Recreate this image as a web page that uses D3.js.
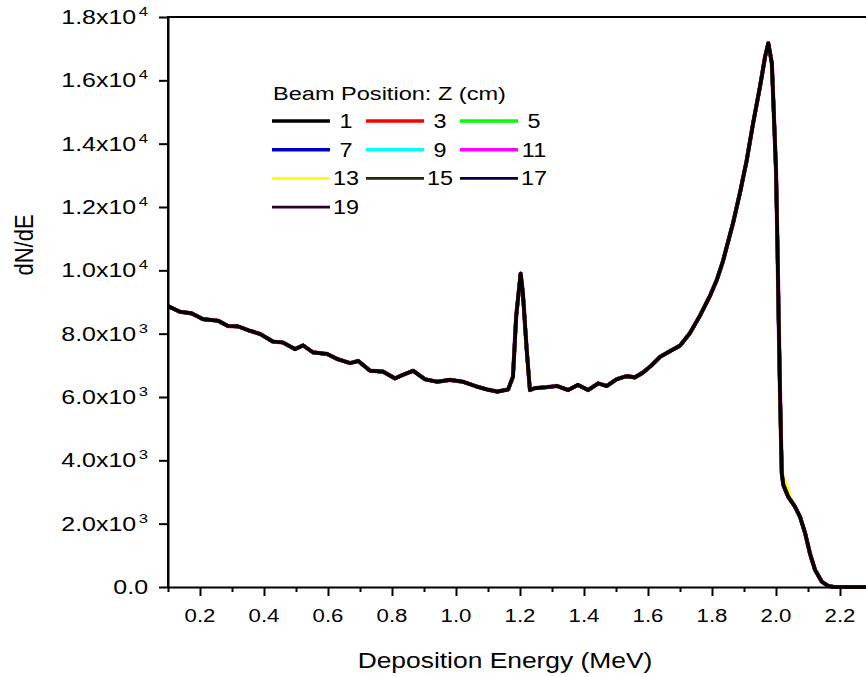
<!DOCTYPE html>
<html>
<head>
<meta charset="utf-8">
<script src="https://cdn.jsdelivr.net/npm/d3@7"></script>
<style>
body { margin: 0; background: #fff; }
text { font-family: "Liberation Sans", Arial, sans-serif; fill: #000; }
</style>
</head>
<body>
<div id="graph"></div>
<script>
/*
 * deposition energy (MeV) and dN/dE.
 * all ten beam positions lie on top of each other, so they share it
 */
var energy = [0.100, 0.138, 0.174, 0.209, 0.256, 0.288, 0.319, 0.356, 0.388,
	0.428, 0.459, 0.497, 0.522, 0.553, 0.597, 0.631, 0.669, 0.694, 0.731,
	0.772, 0.809, 0.834, 0.866, 0.903, 0.941, 0.981, 1.022, 1.059, 1.097,
	1.128, 1.163, 1.178, 1.188, 1.202, 1.209, 1.221, 1.231, 1.247, 1.283,
	1.315, 1.350, 1.381, 1.413, 1.444, 1.471, 1.502, 1.533, 1.559, 1.584,
	1.612, 1.638, 1.669, 1.700, 1.731, 1.763, 1.794, 1.815, 1.834, 1.866,
	1.888, 1.908, 1.928, 1.950, 1.966, 1.976, 1.987, 1.994, 2.000, 2.005,
	2.008, 2.013, 2.018, 2.023, 2.038, 2.059, 2.075, 2.091, 2.106, 2.122,
	2.143, 2.163, 2.184, 2.300];
var counts = [8870, 8690, 8640, 8460, 8410, 8240, 8230, 8090, 7990,
	7750, 7720, 7510, 7630, 7410, 7360, 7190, 7070, 7140, 6830,
	6800, 6590, 6700, 6830, 6560, 6480, 6540, 6480, 6350, 6240,
	6170, 6240, 6640, 8540, 9900, 9280, 7480, 6220, 6280, 6310,
	6350, 6220, 6380, 6220, 6430, 6350, 6560, 6660, 6620, 6770,
	7010, 7270, 7450, 7620, 8020, 8580, 9200, 9700, 10280, 11500,
	12480, 13450, 14620, 15800, 16750, 17170, 16540, 14750, 13170, 10550,
	8650, 5900, 3590, 3220, 2850, 2540, 2220, 1700, 1060, 540,
	170, 30, 0, 0];

// Z = 13 cm splits off a little on the falling edge
var tailEnergy13 = [2.016, 2.023, 2.034, 2.047, 2.058];
var tailCounts13 = [3700, 3450, 3150, 2780, 2560];

var positions = [1, 3, 5, 7, 9, 11, 13, 15, 17, 19];
var colors = ["#000000", "#ff0000", "#00ff00", "#0000c8", "#00ffff",
	"#ff00ff", "#ffff00", "#262600", "#000038", "#2a002a"];

var xMajor = [0.2, 0.4, 0.6, 0.8, 1.0, 1.2, 1.4, 1.6, 1.8, 2.0, 2.2];
var xMinor = [0.1, 0.3, 0.5, 0.7, 0.9, 1.1, 1.3, 1.5, 1.7, 1.9, 2.1, 2.3];
var yTicks = [0, 2000, 4000, 6000, 8000, 10000, 12000, 14000, 16000, 18000];
var yTickMant = ["0.0", "2.0x10", "4.0x10", "6.0x10", "8.0x10",
	"1.0x10", "1.2x10", "1.4x10", "1.6x10", "1.8x10"];
var yTickExp = ["", "3", "3", "3", "3", "4", "4", "4", "4", "4"];

var width = 866, height = 677;
var plotL = 168, plotR = 872, plotT = 17, plotB = 587;
var stretch = 1.2;   // the picture's lettering is a bit wide

var xScale = d3.scaleLinear().domain([0.1, 2.3]).range([plotL, plotR]);
var yScale = d3.scaleLinear().domain([0, 18000]).range([plotB, plotT]);

var svg = d3.select("#graph").append("svg")
	.attr("width", width)
	.attr("height", height);

function pointsFor(z) {
	var pts = energy.map(function (e, i) { return { e: e, v: counts[i] }; });
	if (z == 13) {
		var lo = tailEnergy13[0], hi = tailEnergy13[tailEnergy13.length - 1];
		pts = pts.filter(function (p) { return p.e < lo || p.e > hi; })
			.concat(tailEnergy13.map(function (e, i) {
				return { e: e, v: tailCounts13[i] };
			}))
			.sort(function (a, b) { return a.e - b.e; });
	}
	return pts;
}

var line = d3.line()
	.x(function (d) { return xScale(d.e); })
	.y(function (d) { return yScale(d.v); });

// draw 19 first and 1 last; magenta a touch wider so its edge peeks out
for (var i = positions.length - 1; i >= 0; i--) {
	svg.append("path")
		.datum(pointsFor(positions[i]))
		.attr("fill", "none")
		.attr("stroke", colors[i])
		.attr("stroke-width", positions[i] == 11 ? 4.2 : 3.6)
		.attr("stroke-linejoin", "round")
		.attr("d", line);
}

// frame (right side falls outside the picture)
svg.append("path")
	.attr("d", "M" + plotL + "," + plotB + "V" + plotT + "H" + plotR)
	.attr("fill", "none")
	.attr("stroke", "#000")
	.attr("stroke-width", 2);

svg.append("g")
	.attr("transform", "translate(0," + plotB + ")")
	.call(d3.axisBottom(xScale).tickValues(xMajor).tickSize(9)
		.tickSizeOuter(0).tickFormat(""));
svg.append("g")
	.attr("transform", "translate(0," + plotB + ")")
	.call(d3.axisBottom(xScale).tickValues(xMinor).tickSize(5)
		.tickSizeOuter(0).tickFormat(""))
	.select(".domain").remove();
svg.append("g")
	.attr("transform", "translate(" + plotL + ",0)")
	.call(d3.axisLeft(yScale).tickValues(yTicks).tickSize(9)
		.tickSizeOuter(0).tickFormat(""));
svg.selectAll(".domain").attr("stroke-width", 2);
svg.selectAll(".tick line").attr("stroke-width", 2);

svg.selectAll(".xlab")
	.data(xMajor)
	.enter().append("text")
	.attr("class", "xlab")
	.attr("transform", function (d) {
		return "translate(" + xScale(d) + "," + (plotB + 35) + ") scale("
			+ stretch + ",1)";
	})
	.attr("text-anchor", "middle")
	.attr("font-size", 18.5)
	.text(function (d) { return d.toFixed(1); });

var ylab = svg.selectAll(".ylab")
	.data(yTicks)
	.enter().append("text")
	.attr("class", "ylab")
	.attr("transform", function (d) {
		return "translate(148," + (yScale(d) + 7) + ") scale(1.28,1)";
	})
	.attr("text-anchor", "end")
	.attr("font-size", 19.5);
ylab.append("tspan").text(function (d, i) { return yTickMant[i]; });
ylab.append("tspan")
	.attr("font-size", 13)
	.attr("dx", 2)
	.attr("dy", -8)
	.text(function (d, i) { return yTickExp[i]; });

svg.append("text")
	.attr("transform", "translate(" + ((plotL + 842) / 2) + ",668) scale("
		+ stretch + ",1)")
	.attr("text-anchor", "middle")
	.attr("font-size", 22)
	.text("Deposition Energy (MeV)");

svg.append("text")
	.attr("transform", "translate(33,245) rotate(-90) scale(1," + stretch
		+ ")")
	.attr("text-anchor", "middle")
	.attr("font-size", 22)
	.text("dN/dE");

// legend, three to a row
var legend = svg.append("g");
legend.append("text")
	.attr("transform", "translate(273,100) scale(1.24,1)")
	.attr("font-size", 19)
	.text("Beam Position: Z (cm)");

positions.forEach(function (z, i) {
	var col = i % 3, row = Math.floor(i / 3);
	var x0 = 272 + col * 94, y0 = 121 + row * 28.7;
	legend.append("line")
		.attr("x1", x0).attr("x2", x0 + 58)
		.attr("y1", y0).attr("y2", y0)
		.attr("stroke", colors[i])
		.attr("stroke-width", z < 13 ? 3.5 : 2.6);
	legend.append("text")
		.attr("transform", "translate(" + (x0 + 74) + "," + (y0 + 7)
			+ ") scale(" + stretch + ",1)")
		.attr("text-anchor", "middle")
		.attr("font-size", 19.5)
		.text(z);
});
</script>
</body>
</html>
